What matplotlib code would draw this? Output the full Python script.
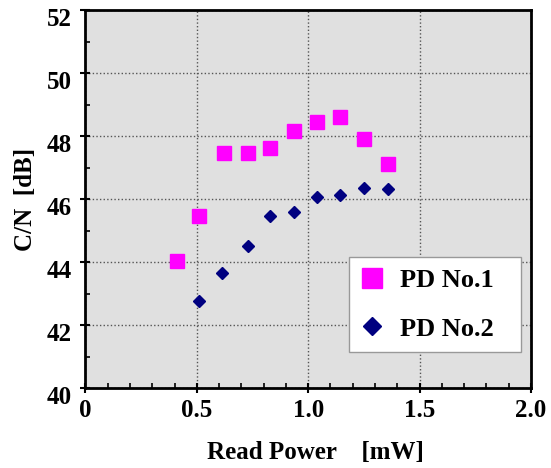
import numpy as np
import matplotlib.pyplot as plt
import matplotlib.transforms as mtransforms
from matplotlib.ticker import MultipleLocator

# read power [mW] and C/N [dB]
power_pd1 = [0.41, 0.51, 0.62, 0.73, 0.83, 0.935, 1.04, 1.145, 1.25, 1.36]
cn_pd1 = [44.05, 45.47, 47.45, 47.45, 47.63, 48.16, 48.46, 48.62, 47.90, 47.13]

power_pd2 = [0.51, 0.615, 0.73, 0.83, 0.935, 1.04, 1.145, 1.25, 1.36]
cn_pd2 = [42.77, 43.66, 44.51, 45.47, 45.60, 46.07, 46.13, 46.36, 46.33]

xticks = [0, 0.5, 1.0, 1.5, 2.0]
xtick_labels = ['0', '0.5', '1.0', '1.5', '2.0']

plt.rcParams['font.family'] = ['Liberation Serif', 'DejaVu Serif']
plt.rcParams['font.weight'] = 'bold'

fig = plt.figure(figsize=(5.51, 4.68), dpi=100)
ax = fig.add_axes([0.155, 0.170, 0.8085, 0.8087])
ax.set_facecolor('#e0e0e0')

ax.plot(power_pd1, cn_pd1, 's', color='#ff00ff', markersize=10, label='PD No.1', zorder=3)
ax.plot(power_pd2, cn_pd2, 'D', color='#000080', markersize=6.3, label='PD No.2', zorder=3)

ax.set_xlim(0, 2.0)
ax.set_ylim(40, 52)
ax.xaxis.set_minor_locator(MultipleLocator(0.1))
ax.yaxis.set_major_locator(MultipleLocator(2))
ax.yaxis.set_minor_locator(MultipleLocator(1))
ax.set_xticks(xticks)
ax.set_xticklabels(xtick_labels)

ax.grid(True, which='major', linestyle=(0, (1, 1.6)), color='#555555', linewidth=1.0)
ax.tick_params(which='major', direction='inout', length=7, width=1.5, labelsize=18)
ax.tick_params(axis='x', which='major', pad=4)
ax.tick_params(axis='y', which='major', pad=6)
ax.tick_params(which='minor', direction='in', length=3.6, width=1.2)
for s in ax.spines.values():
    s.set_linewidth(2)

# y tick labels sit a bit below their ticks in the original
shift = mtransforms.ScaledTranslation(0, -7 / 100, fig.dpi_scale_trans)
for lab in ax.get_yticklabels():
    lab.set_transform(lab.get_transform() + shift)

ax.set_xlabel('Read Power    [mW]', fontsize=18, fontweight='bold', va='baseline')
ax.xaxis.set_label_coords(0.517, -0.186)
ax.set_ylabel('C/N  [dB]', fontsize=18, fontweight='bold', va='baseline')
ax.yaxis.set_label_coords(-0.120, 0.5)

leg = ax.legend(loc='lower left', bbox_to_anchor=(0.5915, 0.0964, 0.386, 0.25),
                mode='expand', borderaxespad=0,
                fontsize=19, frameon=True, fancybox=False, framealpha=1,
                edgecolor='#999999', markerscale=1.45, borderpad=0.43,
                labelspacing=0.95, handlelength=0.87, handletextpad=0.62)
leg.get_frame().set_linewidth(1)

fig.savefig('out.png', dpi=100)
